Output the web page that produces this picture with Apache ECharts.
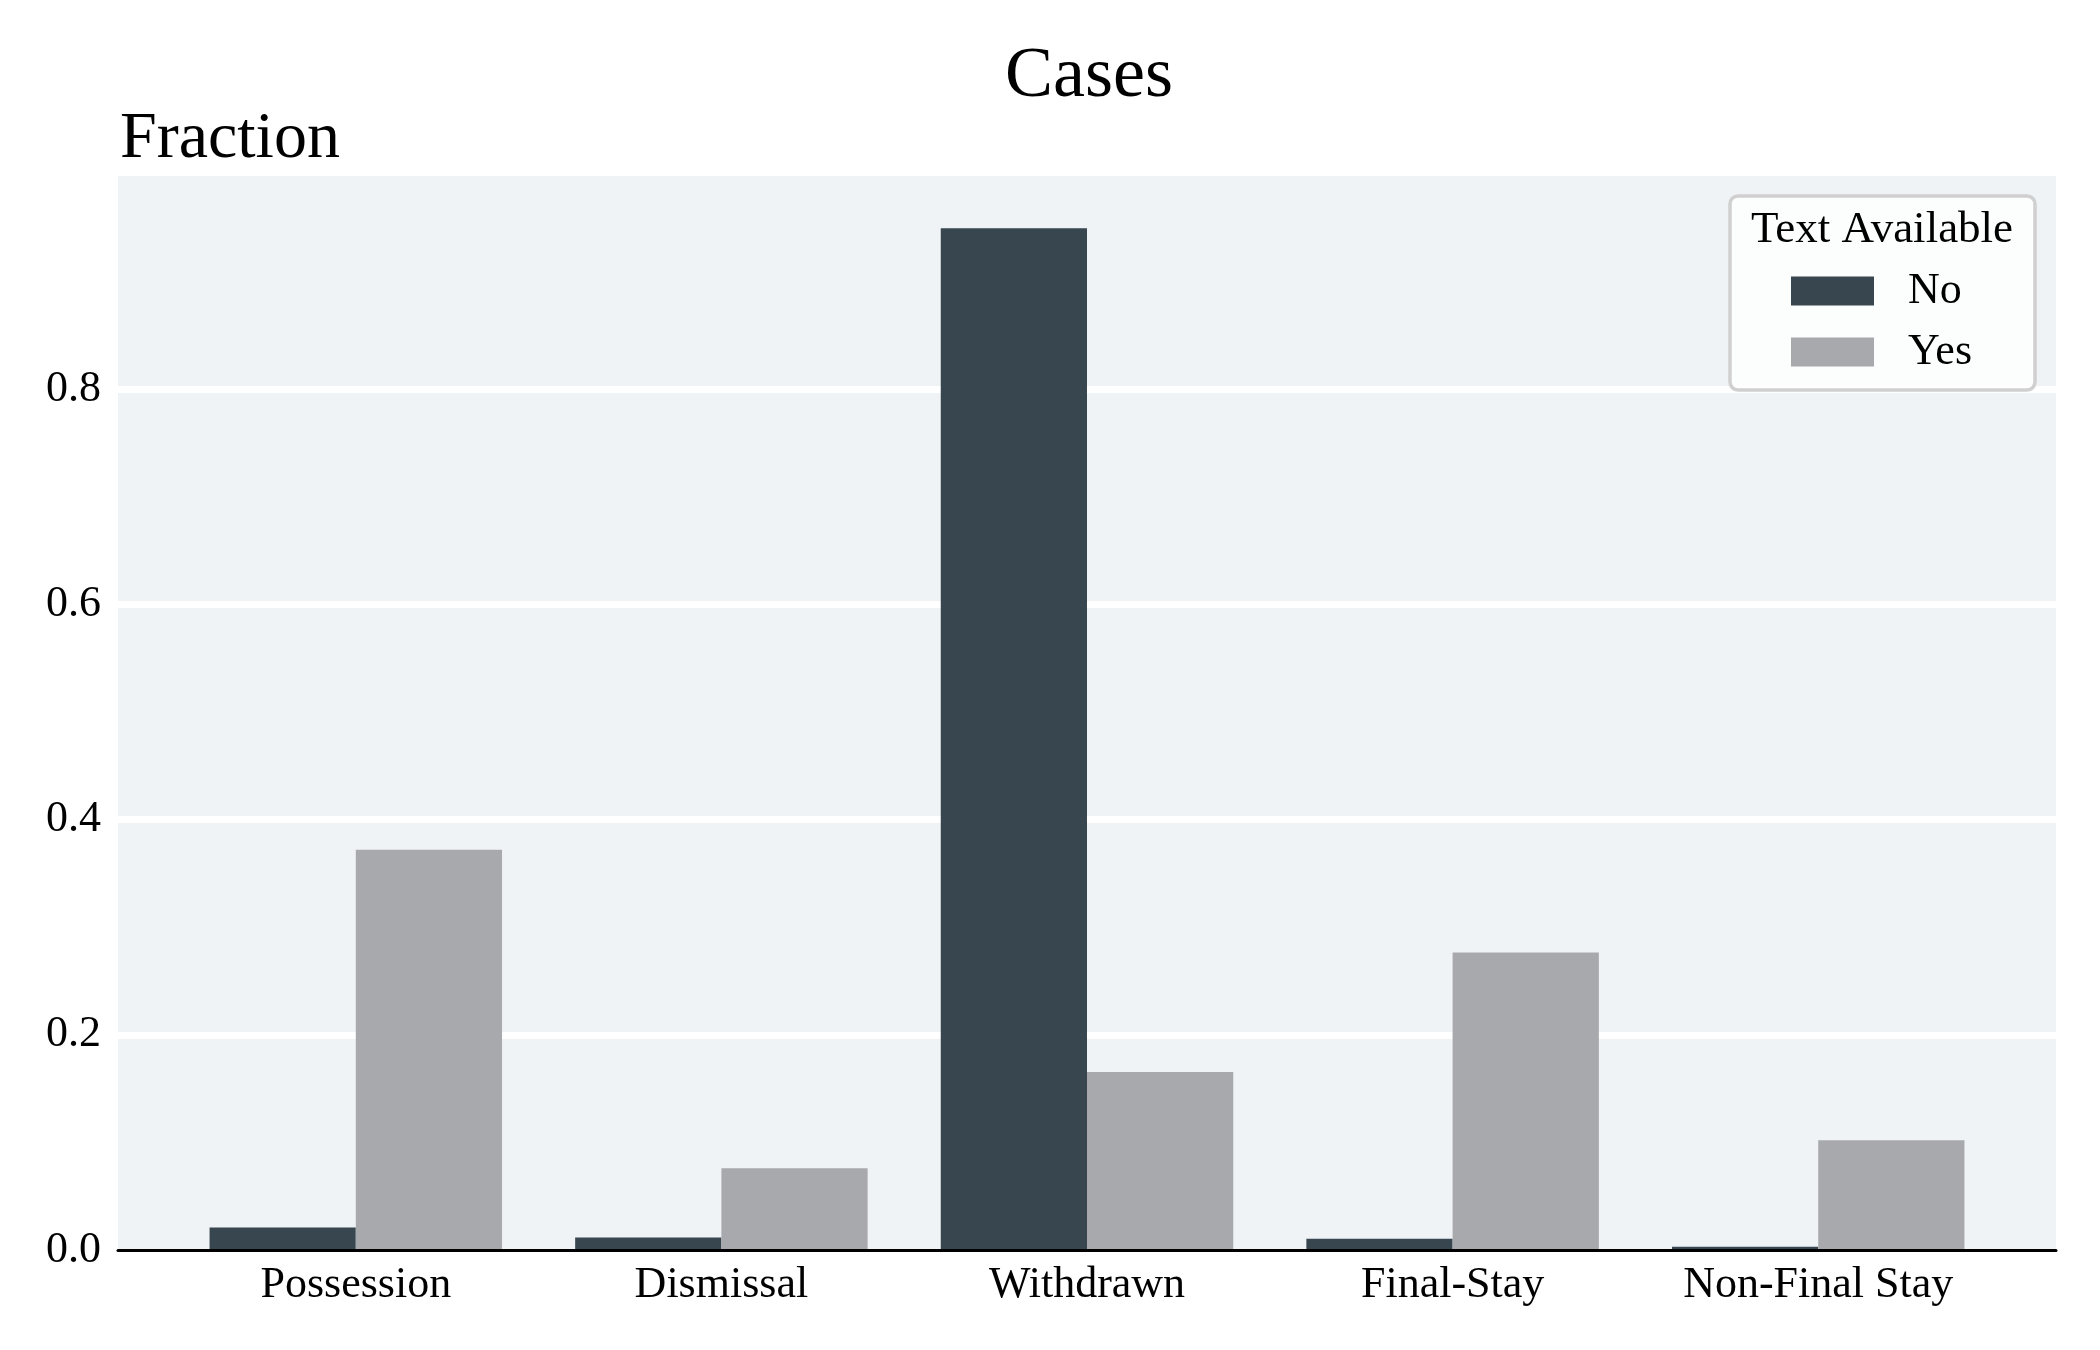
<!DOCTYPE html>
<html>
<head>
<meta charset="utf-8">
<script src="https://cdn.jsdelivr.net/npm/echarts@6/dist/echarts.min.js"></script>
<style>
html,body{margin:0;padding:0;background:#ffffff;}
#chart{width:2100px;height:1350px;}
</style>
</head>
<body>
<div id="chart"></div>
<script>
const categories = ['Possession', 'Dismissal', 'Withdrawn', 'Final-Stay', 'Non-Final Stay'];
const seriesNames = ['No', 'Yes'];
const valuesNo = [0.021, 0.0115, 0.9495, 0.0105, 0.003];
const valuesYes = [0.372, 0.076, 0.1655, 0.2765, 0.102];
const yTicks = [0, 0.2, 0.4, 0.6, 0.8];
const yMax = 0.998;

const FONT = '"Liberation Serif", "DejaVu Serif", serif';
const colNo = '#37464f';
const colYes = '#a8a9ac';
const bg = '#f0f3f6';

const chart = echarts.init(document.getElementById('chart'), null, {renderer: 'canvas'});

const option = {
  backgroundColor: '#ffffff',
  animation: false,
  textStyle: {fontFamily: FONT},
  title: [
    {text: 'Cases', left: 1084, top: 36, textAlign: 'center',
     textStyle: {fontFamily: FONT, fontSize: 72, fontWeight: 'normal', color: '#000'}},
    {text: 'Fraction', left: 115, top: 102,
     textStyle: {fontFamily: FONT, fontSize: 66, fontWeight: 'normal', color: '#000'}}
  ],
  grid: [
    {left: 118, right: 44, top: 176, bottom: 100, show: true, backgroundColor: bg, borderWidth: 0},
    {left: 173, right: 99, top: 176, bottom: 100}
  ],
  xAxis: [
    {type: 'value', gridIndex: 0, min: 0, max: 1, z: 5,
     axisLine: {show: true, onZero: false, lineStyle: {color: '#000', width: 3}},
     axisTick: {show: false}, axisLabel: {show: false}, splitLine: {show: false}},
    {type: 'category', gridIndex: 1, data: categories,
     axisLine: {show: false}, axisTick: {show: false}, splitLine: {show: false},
     axisLabel: {fontFamily: FONT, fontSize: 44, color: '#000', margin: 13, interval: 0}}
  ],
  yAxis: [
    {type: 'value', gridIndex: 0, min: 0, max: yMax, interval: 0.2,
     axisLine: {show: false}, axisTick: {show: false},
     axisLabel: {fontFamily: FONT, fontSize: 44, color: '#000', margin: 17, showMaxLabel: false,
       formatter: v => (yTicks.some(t => Math.abs(t - v) < 1e-9) ? v.toFixed(1) : '')},
     splitLine: {show: true, showMaxLine: false, showMinLine: false, lineStyle: {color: '#ffffff', width: 7}}},
    {type: 'value', gridIndex: 1, min: 0, max: yMax, show: false, splitLine: {show: false}}
  ],
  legend: {
    orient: 'vertical', left: 1786, top: 264, z: 20,
    itemWidth: 83, itemHeight: 29, itemGap: 17, icon: 'rect',
    selectedMode: false,
    data: seriesNames,
    textStyle: {fontFamily: FONT, fontSize: 44, color: '#000', lineHeight: 29, padding: [0, 0, 0, 29]}
  },
  graphic: [
    {type: 'rect', z: 10, shape: {x: 1730, y: 196, width: 305, height: 194, r: 8},
     style: {fill: 'rgba(255,255,255,0.8)', stroke: '#d0d0d0', lineWidth: 3.5}},
    {type: 'text', z: 20, x: 1882, y: 230,
     style: {text: 'Text Available', fontFamily: FONT, fontSize: 45, fill: '#000',
             textAlign: 'center', textVerticalAlign: 'middle'}}
  ],
  series: [
    {name: seriesNames[0], type: 'bar', xAxisIndex: 1, yAxisIndex: 1, data: valuesNo,
     itemStyle: {color: colNo}, barGap: '0%', barCategoryGap: '20%'},
    {name: seriesNames[1], type: 'bar', xAxisIndex: 1, yAxisIndex: 1, data: valuesYes,
     itemStyle: {color: colYes}, barGap: '0%', barCategoryGap: '20%'}
  ]
};
chart.setOption(option);
</script>
</body>
</html>
